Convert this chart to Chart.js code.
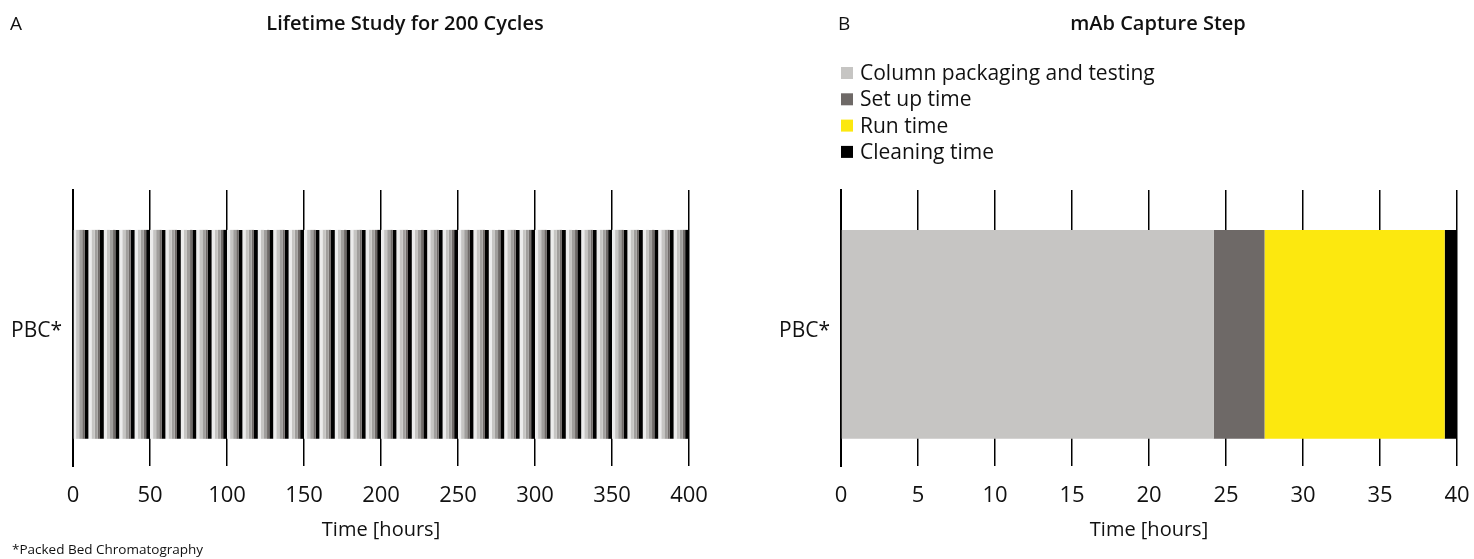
<!DOCTYPE html>
<html><head><meta charset="utf-8">
<script src="https://cdn.jsdelivr.net/npm/chart.js@4.4.1/dist/chart.umd.min.js"></script>
<style>
html,body{margin:0;padding:0;background:#fff;}
#wrap{position:relative;width:1474px;height:559px;overflow:hidden;font-family:'Open Sans',Lato,sans-serif;color:#111;}
.cv{position:absolute;top:0;width:737px;height:559px;}
.txt{position:absolute;white-space:nowrap;line-height:1;}
</style></head>
<body><div id="wrap">
<div class="cv" style="left:0"><canvas id="cA" width="737" height="559"></canvas></div>
<div class="cv" style="left:737px"><canvas id="cB" width="737" height="559"></canvas></div>
<div class="txt" style="left:10px;top:14px;font-size:19px;">A</div>
<div class="txt" style="left:405px;top:13px;font-size:20px;font-weight:600;transform:translateX(-50%);">Lifetime Study for 200 Cycles</div>
<div class="txt" style="left:838px;top:14px;font-size:19px;">B</div>
<div class="txt" style="left:1158px;top:13px;font-size:20px;font-weight:600;transform:translateX(-50%);">mAb Capture Step</div>
<div class="txt" style="left:12px;top:543px;font-size:13.5px;">*Packed Bed Chromatography</div>
</div>
<script>
// ---- Data ----
const categories = ['PBC*'];
// Panel A: lifetime study, 400 h made of repeating 10 h blocks (5 shaded phases)
const blockCount = 40;
const blockPhaseHours = [2, 2, 2, 1.5, 2.5];
const blockPhaseShades = ['#ececec', '#c6c5c3', '#a09e9c', '#6e6967', '#000000'];
const xTicksA = { min: 0, max: 400, step: 50 };
// Panel B: mAb capture step
const stepLabels = ['Column packaging and testing', 'Set up time', 'Run time', 'Cleaning time'];
const stepHours = [24.2, 3.3, 11.7, 0.8];
const stepColors = ['#c6c5c3', '#6e6967', '#fce80f', '#000000'];
const xTicksB = { min: 0, max: 40, step: 5 };
const axisTitle = 'Time [hours]';

const FONT = '"Open Sans", Lato, sans-serif';
const TXT = '#111';

function makeOptions(ticks, yWidth, padRight) {
  return {
    responsive: false,
    animation: false,
    indexAxis: 'y',
    layout: { padding: { top: 190, right: padRight, bottom: 0, left: 0 } },
    plugins: { legend: { display: false }, tooltip: { enabled: false }, title: { display: false } },
    scales: {
      x: {
        type: 'linear', stacked: true, min: ticks.min, max: ticks.max,
        ticks: { stepSize: ticks.step, padding: 17, color: TXT, font: { family: FONT, size: 22 } },
        grid: { color: '#000', lineWidth: 1.5, drawTicks: false },
        border: { display: false },
        title: { display: true, text: axisTitle, color: TXT, font: { family: FONT, size: 20 }, padding: { top: 0, bottom: 17 } },
        afterFit: s => { s.height = 93; s.paddingLeft = 0; s.paddingRight = 0; }
      },
      y: {
        type: 'category', stacked: true,
        ticks: { padding: 11, labelOffset: 3, color: TXT, font: { family: FONT, size: 21 }, callback: (v, i) => categories[i] },
        grid: { display: false, drawTicks: false },
        border: { display: true, color: '#000', width: 2 },
        afterDataLimits: s => { s.min = -0.023; },
        afterFit: s => { s.width = yWidth; }
      }
    }
  };
}

// Panel A datasets
const dsA = [];
for (let b = 0; b < blockCount; b++) {
  blockPhaseHours.forEach((h, p) => {
    dsA.push({ label: 'phase' + p, data: [h], backgroundColor: blockPhaseShades[p], borderWidth: 0,
      barPercentage: 0.757, categoryPercentage: 1 });
  });
}
new Chart(document.getElementById('cA'), {
  type: 'bar',
  data: { labels: categories, datasets: dsA },
  options: makeOptions(xTicksA, 73, 48)
});

// Panel B
const legendPlugin = {
  id: 'stackLegend',
  afterDraw(chart) {
    const ctx = chart.ctx, x0 = chart.chartArea.left;
    ctx.save();
    ctx.font = '21px ' + FONT;
    ctx.textBaseline = 'middle';
    chart.data.datasets.forEach((ds, i) => {
      const y = 73 + i * 26.3;
      ctx.fillStyle = ds.backgroundColor;
      ctx.fillRect(x0, y - 6, 12, 12);
      ctx.fillStyle = TXT;
      ctx.fillText(ds.label, x0 + 19, y + 1);
    });
    ctx.restore();
  }
};
const dsB = stepLabels.map((l, i) => ({ label: l, data: [stepHours[i]], backgroundColor: stepColors[i], borderWidth: 0,
  barPercentage: 0.757, categoryPercentage: 1 }));
new Chart(document.getElementById('cB'), {
  type: 'bar',
  data: { labels: categories, datasets: dsB },
  options: makeOptions(xTicksB, 104, 17),
  plugins: [legendPlugin]
});
</script>
</body></html>
